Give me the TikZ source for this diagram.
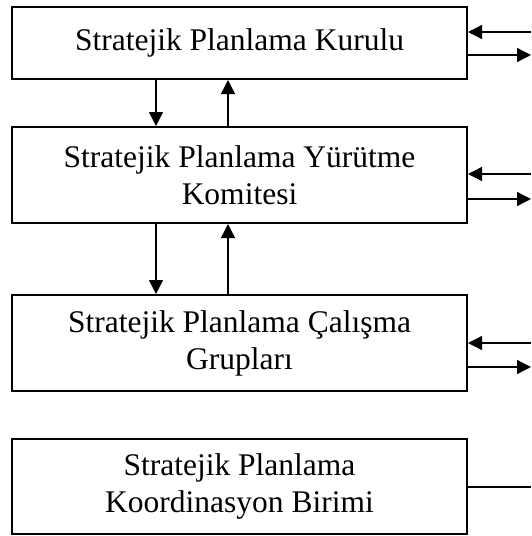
\documentclass[tikz,border=0pt]{standalone}
\usepackage{fontspec}
\setmainfont{Liberation Serif}
\usetikzlibrary{arrows.meta,positioning}
\tikzset{kutu/.style={rectangle,draw,line width=2pt,minimum width=455pt,inner sep=0pt,align=center,font=\fontsize{31.5}{37}\selectfont},
         ok/.style={-{Triangle[length=14pt,width=14pt]},line width=1.3pt}
}
\begin{document}
\begin{tikzpicture}[x=1pt,y=-1pt]
\useasboundingbox (0,0) rectangle (531,536);
\node [kutu, minimum height=72pt] (kurul) at (239.5,43) {Stratejik Planlama Kurulu};
\node [kutu, minimum height=96pt] (komite) at (239.5,175) {Stratejik Planlama Yürütme\\Komitesi};
\node [kutu, minimum height=96pt] (grup) at (239.5,343) {Stratejik Planlama Çalışma\\Grupları};
\node [kutu, minimum height=95pt] (birim) at (239.5,486.5) {Stratejik Planlama\\Koordinasyon Birimi};
% dikey oklar
\draw[ok] ([xshift=-83.5pt]kurul.south) -- ([xshift=-83.5pt]komite.north);
\draw[ok] ([xshift=-11.5pt]komite.north) -- ([xshift=-11.5pt]kurul.south);
\draw[ok] ([xshift=-83.5pt]komite.south) -- ([xshift=-83.5pt]grup.north);
\draw[ok] ([xshift=-11.5pt]grup.north) -- ([xshift=-11.5pt]komite.south);
% sag taraf
\coordinate (g1) at (531,32);
\coordinate (c1) at (531,55);
\coordinate (g2) at (531,174);
\coordinate (c2) at (531,199);
\coordinate (g3) at (531,343);
\coordinate (c3) at (531,367);
\coordinate (c4) at (531,487);
\draw[ok] (g1) -- (kurul.east |- g1);
\draw[ok] (kurul.east |- c1) -- (c1);
\draw[ok] (g2) -- (komite.east |- g2);
\draw[ok] (komite.east |- c2) -- (c2);
\draw[ok] (g3) -- (grup.east |- g3);
\draw[ok] (grup.east |- c3) -- (c3);
\draw[line width=1.3pt] (birim.east |- c4) -- (c4);
\end{tikzpicture}
\end{document}
